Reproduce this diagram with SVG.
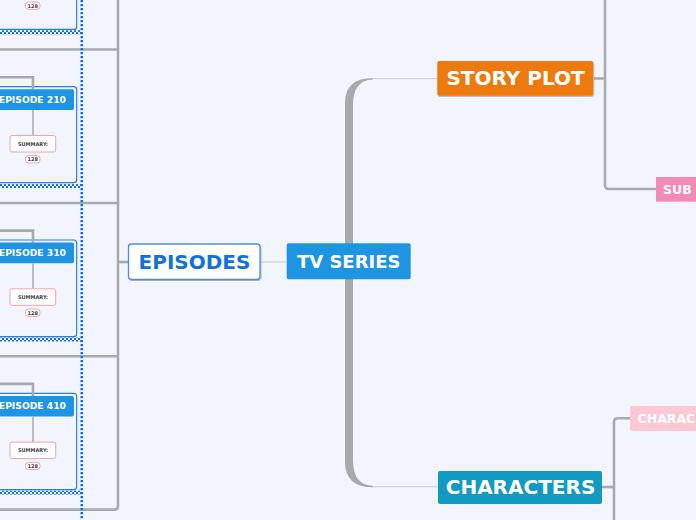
<svg xmlns="http://www.w3.org/2000/svg" width="696" height="520" viewBox="0 0 696 520">
<style>
.bg{fill:#f2f5fe}
.gl{fill:none;stroke:#a9aaab;stroke-width:2.6;stroke-linecap:butt}
.gt{fill:none;stroke:#a9aaab;stroke-width:1.5}
.thin{fill:none;stroke:#c8ccd6;stroke-width:1}
.thick{fill:#a8a9a8}
.ebox{fill:none;stroke:#2a7fe3;stroke-width:1.2}
.ehead{fill:#1d95e3}
.etxt{font-family:"DejaVu Sans",sans-serif;font-weight:bold;font-size:9.2px;fill:#fff}
.sum{fill:#fff;stroke:#f5a3ab;stroke-width:1}
.stxt{font-family:"DejaVu Sans",sans-serif;font-weight:bold;font-size:5px;fill:#444;text-anchor:middle}
.ptxt{font-family:"DejaVu Sans",sans-serif;font-weight:bold;font-size:5px;fill:#444;text-anchor:middle}
.big{font-family:"DejaVu Sans",sans-serif;font-weight:bold;font-size:20px;fill:#fff;text-anchor:middle}
.small{font-family:"DejaVu Sans",sans-serif;font-weight:bold;font-size:12.5px;fill:#fff}
</style>
<defs>
<pattern id="chk" width="4" height="4" patternUnits="userSpaceOnUse">
<rect x="0" y="0" width="2" height="2" fill="#1570e6"/>
<rect x="2" y="2" width="2" height="2" fill="#1570e6"/>
</pattern>
<filter id="sh" x="-10%" y="-20%" width="130%" height="150%">
<feDropShadow dx="0.6" dy="1" stdDeviation="0.6" flood-color="#000" flood-opacity="0.3"/>
</filter>
</defs>
<rect class="bg" x="0" y="0" width="696" height="520"/>

<g id="connectors">
<path class="gl" d="M118 0 V506 Q118 509.6 114.5 509.6 H0"/>
<path class="gl" d="M0 49.5 H118"/>
<path class="gl" d="M0 203 H118"/>
<path class="gl" d="M0 356.3 H118"/>
<path class="gl" d="M118 262 H129"/>
<path d="M81.8 0 V520" fill="none" stroke="#1570e6" stroke-width="2.6" stroke-dasharray="2.2 1.8"/>
<path class="thin" d="M260 262 H287"/>
<path class="thick" d="M345 262 L345 103 Q345 78 373 78 L373 79.5 Q353 80 353 105 L353 262 Z"/>
<path class="thick" d="M345 262 L345 462 Q345 487.3 373 487.3 L373 485.8 Q353 485.5 353 460 L353 262 Z"/>
<path class="thin" d="M372 78.7 H438"/>
<path class="thin" d="M372 486.8 H438"/>
<path class="gl" d="M594 78.5 H605"/>
<path class="gl" d="M605 0 V185 Q605 189 609 189 H656"/>
<path class="gl" d="M602 487 H614"/>
<path class="gl" d="M614 520 V422.3 Q614 418.3 618 418.3 H630"/>
</g>

<g id="episode-1xx">
<path class="ebox" d="M-2 0 V29.4 H73.7 Q76.7 29.4 76.7 26.4 V0"/>
<rect x="0" y="30.2" width="82" height="4" fill="url(#chk)"/>
<rect class="sum" x="25.5" y="2" width="14.5" height="7.3" rx="3"/>
<text class="ptxt" x="32.7" y="7.6">128</text>
</g>

<g id="episode-210">
<rect class="ebox" x="-10" y="86.7" width="86.7" height="96" rx="3"/>
<rect x="0" y="184" width="82" height="4" fill="url(#chk)"/>
<path class="gl" d="M0 77.3 H33 V89.3"/>
<rect class="ehead" x="-10" y="89.3" width="84" height="20.7" rx="2"/>
<text class="etxt" x="66" y="102.8" text-anchor="end">EPISODE 210</text>
<path class="gt" d="M33 110 V135.5"/>
<rect class="sum" x="10" y="135.5" width="45.7" height="16.5" rx="2"/>
<text class="stxt" x="33" y="145.6">SUMMARY:</text>
<rect class="sum" x="25.5" y="155.7" width="14.5" height="7.3" rx="3"/>
<text class="ptxt" x="32.7" y="161.3">128</text>
</g>

<g id="episode-310">
<rect class="ebox" x="-10" y="240" width="86.7" height="96.7" rx="3"/>
<rect x="0" y="337.5" width="82" height="4" fill="url(#chk)"/>
<path class="gl" d="M0 230.6 H33 V242.6"/>
<rect class="ehead" x="-10" y="242.6" width="84" height="20.7" rx="2"/>
<text class="etxt" x="66" y="256.1" text-anchor="end">EPISODE 310</text>
<path class="gt" d="M33 263.3 V288.8"/>
<rect class="sum" x="10" y="288.8" width="45.7" height="16.5" rx="2"/>
<text class="stxt" x="33" y="298.9">SUMMARY:</text>
<rect class="sum" x="25.5" y="309" width="14.5" height="7.3" rx="3"/>
<text class="ptxt" x="32.7" y="314.6">128</text>
</g>

<g id="episode-410">
<rect class="ebox" x="-10" y="393.3" width="86.7" height="96.3" rx="3"/>
<rect x="0" y="490.6" width="82" height="4" fill="url(#chk)"/>
<path class="gl" d="M0 383.9 H33 V395.9"/>
<rect class="ehead" x="-10" y="395.9" width="84" height="20.7" rx="2"/>
<text class="etxt" x="66" y="409.4" text-anchor="end">EPISODE 410</text>
<path class="gt" d="M33 416.6 V442.1"/>
<rect class="sum" x="10" y="442.1" width="45.7" height="16.5" rx="2"/>
<text class="stxt" x="33" y="452.2">SUMMARY:</text>
<rect class="sum" x="25.5" y="462.3" width="14.5" height="7.3" rx="3"/>
<text class="ptxt" x="32.7" y="467.9">128</text>
</g>

<g id="episodes">
<rect x="128.5" y="244" width="131.5" height="35.3" rx="3" fill="#fff" stroke="#4a8fe0" stroke-width="1.3" filter="url(#sh)"/>
<text class="big" x="194.5" y="269" style="fill:#1272dc">EPISODES</text>
</g>

<g id="tv-series">
<rect x="286.7" y="243.3" width="124" height="36" rx="2" fill="#1d95e3"/>
<text class="big" x="348.7" y="268.3" style="font-size:18px">TV SERIES</text>
</g>

<g id="story-plot">
<rect x="437.3" y="61" width="156" height="34.7" rx="2" fill="#ee7a10" filter="url(#sh)"/>
<text class="big" x="515.5" y="85.3">STORY PLOT</text>
</g>

<g id="characters">
<rect x="438" y="471" width="164" height="33" rx="2" fill="#139ac0"/>
<text class="big" x="520.5" y="494.3">CHARACTERS</text>
</g>

<g id="sub">
<rect x="656" y="177" width="45" height="24.7" fill="#f38bb5"/>
<text class="small" x="663" y="194">SUB</text>
</g>

<g id="charac">
<rect x="630" y="406" width="70" height="25" rx="1.5" fill="#fbc8d3"/>
<text class="small" x="637.5" y="423">CHARAC</text>
</g>
</svg>
